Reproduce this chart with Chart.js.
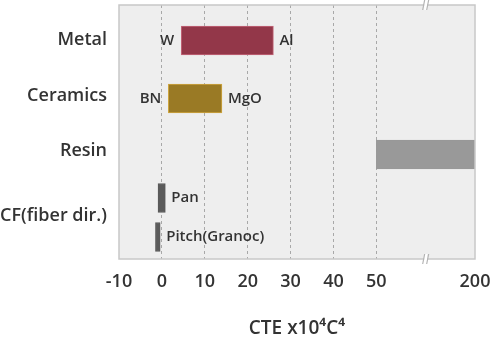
<!DOCTYPE html>
<html>
<head>
<meta charset="utf-8">
<script src="https://cdn.jsdelivr.net/npm/chart.js@4"></script>
<style>
  body { margin: 0; background: #fff; }
</style>
</head>
<body>
<canvas id="cte_chart" width="500" height="342"></canvas>
<script>
// CTE ranges per material (x10^-6 / C)
var materials = ["Metal", "Ceramics", "Resin", "Pan", "Pitch(Granoc)"];
var cteLow = [4.5, 1.5, 50, -0.9, -1.5];
var cteHigh = [26, 14, 200, 0.8, -0.4];
var lowNames = ["W", "BN", "", "", ""];
var highNames = ["Al", "MgO", "", "Pan", "Pitch(Granoc)"];
var groupNames = ["Metal", "Ceramics", "Resin", "CF(fiber dir.)"];
var xTicks = [-10, 0, 10, 20, 30, 40, 50, 200];

// row layout on the (reversed) vertical axis, 0 = top of plot
var rowY = [35.5, 93.5, 149.5, 193, 232];
var groupY = [35, 91, 146, 211];

var barColors = ["#933749", "#9a7a25", "#999999", "#5a5a5a", "#5a5a5a"];
var barBorders = ["#c4677a", "#cfa640", "#999999", "#5a5a5a", "#5a5a5a"];

var FONT = "'Open Sans', 'DejaVu Sans', sans-serif";
var TEXT = "#333333";

// axis is broken after 50: 50..200 is squeezed into a short stretch
function squash(v) {
  return v <= 50 ? v : 50 + (v - 50) * 23 / 150;
}

var plotFrame = {
  id: "plotFrame",
  beforeDraw: function (chart) {
    var a = chart.chartArea, c = chart.ctx;
    c.save();
    c.fillStyle = "#eeeeee";
    c.fillRect(a.left, a.top, a.right - a.left, a.bottom - a.top);
    c.restore();
  },
  afterDatasetsDraw: function (chart) {
    var a = chart.chartArea, c = chart.ctx;
    var xs = chart.scales.x;
    c.save();
    c.strokeStyle = "#c8c8c8";
    c.lineWidth = 1.5;
    c.strokeRect(a.left, a.top, a.right - a.left, a.bottom - a.top);

    // break marks on top and bottom edge
    var bx = xs.getPixelForValue(squash(125));
    [a.top, a.bottom].forEach(function (y) {
      c.fillStyle = "#ffffff";
      c.fillRect(bx - 1.5, y - 5, 3, 10);
      c.strokeStyle = "#b4b4b4";
      c.lineWidth = 1.2;
      c.beginPath();
      c.moveTo(bx - 3, y + 5); c.lineTo(bx - 1, y - 5);
      c.moveTo(bx + 1, y + 5); c.lineTo(bx + 3, y - 5);
      c.stroke();
    });

    // end-point names next to each bar
    c.font = "600 15px " + FONT;
    c.fillStyle = TEXT;
    c.textBaseline = "middle";
    chart.getDatasetMeta(0).data.forEach(function (bar, i) {
      var p = bar.getProps(["x", "base", "y"], true);
      var lo = Math.min(p.x, p.base), hi = Math.max(p.x, p.base);
      if (lowNames[i]) {
        c.textAlign = "right";
        c.fillText(lowNames[i], lo - 7, p.y);
      }
      if (highNames[i]) {
        c.textAlign = "left";
        c.fillText(highNames[i], hi + 6, p.y);
      }
    });
    c.restore();
  }
};

var ctx = document.getElementById("cte_chart").getContext("2d");
var cte_chart = new Chart(ctx, {
  type: "bar",
  data: {
    datasets: [
      {
        label: "CTE",
        data: materials.map(function (m, i) {
          return { x: [squash(cteLow[i]), squash(cteHigh[i])], y: rowY[i] };
        }),
        backgroundColor: barColors,
        borderColor: barBorders,
        borderWidth: 1,
        borderSkipped: false,
        barThickness: 29,
      },
    ],
  },
  options: {
    indexAxis: "y",
    responsive: false,
    animation: false,
    layout: { padding: { top: 5, right: 25, left: 0, bottom: 0 } },
    scales: {
      x: {
        type: "linear",
        min: -10,
        max: squash(200),
        afterBuildTicks: function (s) {
          s.ticks = xTicks.map(function (v) { return { value: squash(v) }; });
        },
        afterFit: function (s) {
          s.height = 83;
          s.paddingLeft = 0;
          s.paddingRight = 0;
        },
        grid: {
          drawTicks: false,
          lineWidth: 1,
          color: function (c) {
            return c.index > 0 && c.index < xTicks.length - 1 ? "#a8a8a8" : "rgba(0,0,0,0)";
          },
        },
        border: { display: false, dash: [3, 3] },
        ticks: {
          autoSkip: false,
          maxRotation: 0,
          padding: 12,
          color: TEXT,
          font: { family: FONT, size: 18, weight: 600 },
          callback: function (v, i) { return xTicks[i]; },
        },
        title: {
          display: true,
          text: "CTE x10⁴C⁴",
          color: TEXT,
          font: { family: FONT, size: 19, weight: 600 },
          padding: { top: 0, bottom: 2 },
        },
      },
      y: {
        type: "linear",
        reverse: true,
        offset: false,
        min: 0,
        max: 254,
        afterBuildTicks: function (s) {
          s.ticks = groupY.map(function (v) { return { value: v }; });
        },
        afterFit: function (s) {
          s.width = 119;
          s.paddingTop = 0;
          s.paddingBottom = 0;
        },
        grid: { display: false, drawTicks: false },
        border: { display: false },
        ticks: {
          autoSkip: false,
          padding: 12,
          color: TEXT,
          font: { family: FONT, size: 18, weight: 600 },
          callback: function (v, i) { return groupNames[i]; },
        },
      },
    },
    plugins: {
      legend: { display: false },
      tooltip: { enabled: false },
    },
  },
  plugins: [plotFrame],
});
</script>
</body>
</html>
